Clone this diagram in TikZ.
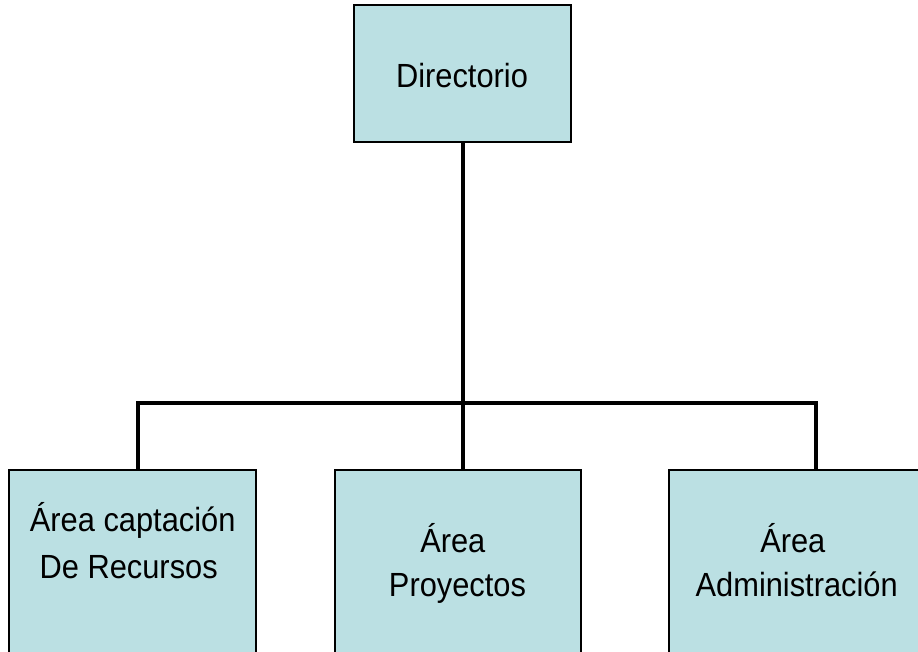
\documentclass[tikz,border=0pt]{standalone}
\usepackage{fontspec}
\setmainfont{Liberation Sans}[FakeStretch=0.92]
\definecolor{boxfill}{RGB}{187,224,227}
\begin{document}
\begin{tikzpicture}[x=1pt,y=-1pt,
  orgbox/.style={draw=black,line width=1.3pt,fill=boxfill,inner sep=0pt},
  conn/.style={draw=black,line width=4pt,line cap=butt,line join=miter},
  lbl/.style={anchor=base,inner sep=0pt,font=\fontsize{33.5}{40}\selectfont}]
\useasboundingbox (0,0) rectangle (918,651);
\clip (0,0) rectangle (918,651);
% boxes
\node[orgbox,minimum width=217pt,minimum height=137pt] (dir) at (462.5,73.5) {};
\node[orgbox,minimum width=247pt,minimum height=240pt] (cap) at (132.5,590) {};
\node[orgbox,minimum width=246pt,minimum height=240pt] (pro) at (458,590) {};
\node[orgbox,minimum width=252pt,minimum height=240pt] (adm) at (795,590) {};
% connectors
\coordinate (hl) at (137.7,402.5);
\coordinate (hr) at (816,402.5);
\draw[conn] (dir.south) -- (dir.south |- pro.north);
\draw[conn] (cap.north -| hl) -- (hl) -- (hr) -- (adm.north -| hr);
% texts
\node[lbl] (tdir) at (462,87.3) {Directorio};
\node[lbl] (tcap1) at (132.7,531.7) {Área captación};
\node[lbl] (tcap2) at (128.7,578.3) {De Recursos};
\node[lbl] (tpro1) at (452.8,552.7) {Área};
\node[lbl] (tpro2) at (457.5,596.7) {Proyectos};
\node[lbl] (tadm1) at (792.8,552.7) {Área};
\node[lbl] (tadm2) at (796.7,596.7) {Administración};
\end{tikzpicture}
\end{document}
